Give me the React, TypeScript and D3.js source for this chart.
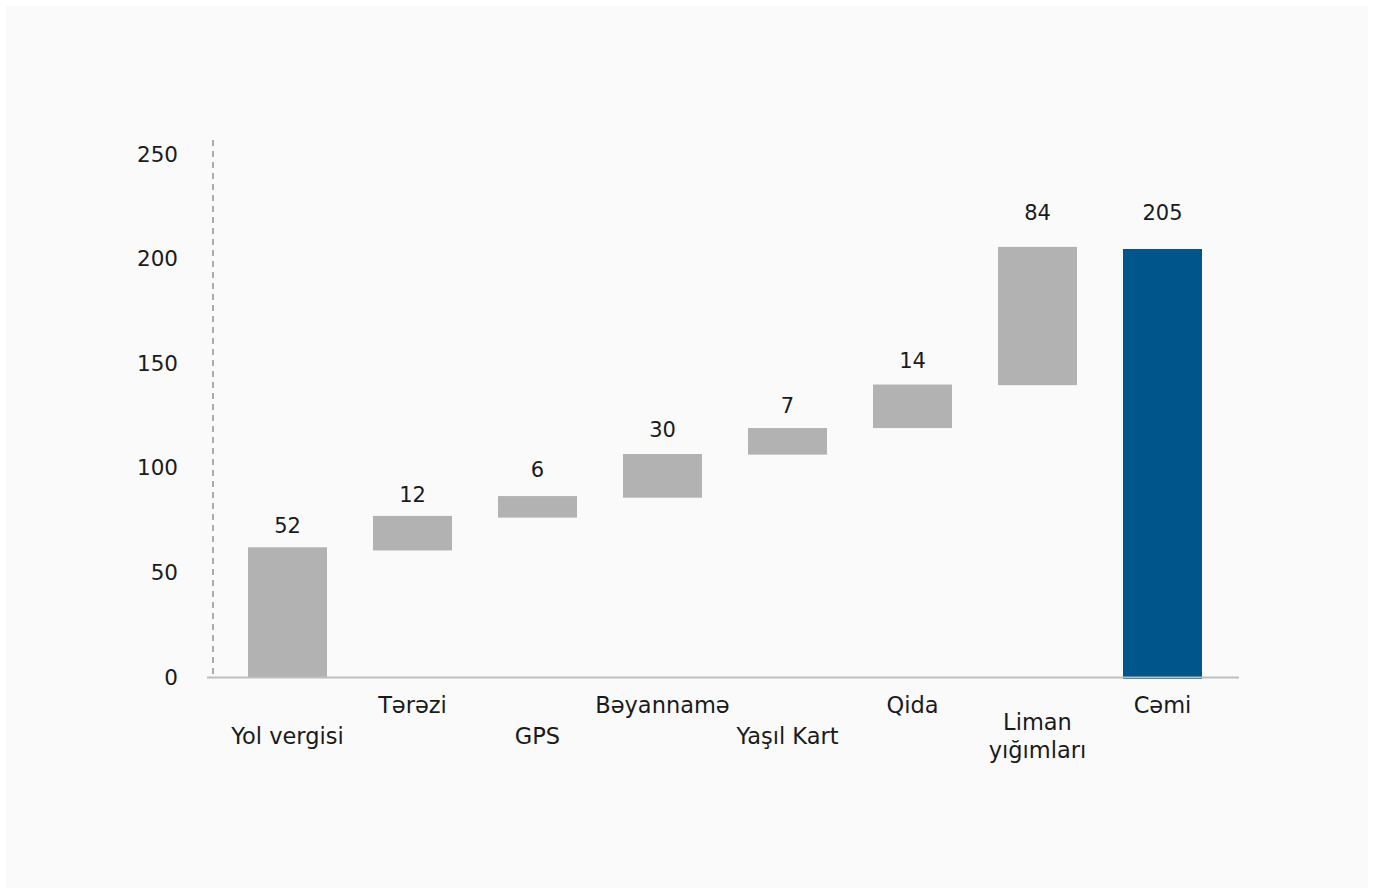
import React from "react";
import * as d3 from "d3";

const categories = ["Yol vergisi", "Tərəzi", "GPS", "Bəyannamə", "Yaşıl Kart", "Qida", "Liman yığımları", "Cəmi"];
const valueLabels = [52, 12, 6, 30, 7, 14, 84, 205];
const barStart = [0, 60.5, 76.2, 85.7, 106.3, 119, 139.5, 0];
const barEnd = [62, 77, 86.5, 106.6, 119, 139.8, 205.6, 204.6];
const labelAt = [72.0, 87.0, 98.9, 118.1, 129.7, 151.2, 221.6, 221.6];
const isTotal = [false, false, false, false, false, false, false, true];
const yTicks = [0, 50, 100, 150, 200, 250];

const W = 1373;
const H = 891;
const FONT = "'DejaVu Sans', sans-serif";
const TEXT = "#1a1a1a";
const GRAY = "#b1b2b1";
const BLUE = "#00558a";

export default function App() {
  const x = d3.scaleBand<string>().domain(categories).range([225, 1225]).paddingInner(0.368).paddingOuter(0.184);
  const y = d3.scaleLinear().domain([0, 250]).range([677, 154]);

  const wrap = (s: string) => (s.length > 12 && s.includes(" ") ? s.split(" ") : [s]);
  const cx = (c: string) => (x(c) as number) + x.bandwidth() / 2;

  return (
    <svg width={W} height={H} style={{ position: "absolute", left: 0, top: 0, background: "#ffffff" }}>
      <rect x={6} y={6} width={1362} height={882} fill="#fafafa" />
      <line x1={213} x2={213} y1={140} y2={y(0)} stroke="#ababab" strokeWidth={2} strokeDasharray="6,5" />
      {yTicks.map((t) => (
        <text key={t} x={178} y={y(t)} textAnchor="end" dominantBaseline="central" fontFamily={FONT} fontSize={21.5} fill={TEXT}>
          {t}
        </text>
      ))}
      {categories.map((c, i) => {
        const y0 = y(Math.min(barStart[i], barEnd[i]));
        const y1 = y(Math.max(barStart[i], barEnd[i]));
        return (
          <rect key={c} x={x(c)} y={y1} width={x.bandwidth()} height={y0 - y1 + (isTotal[i] ? 2 : 0)} fill={isTotal[i] ? BLUE : GRAY} />
        );
      })}
      <line x1={207} x2={1239} y1={677.5} y2={677.5} stroke="#bdbdbd" strokeWidth={2} />
      {categories.map((c, i) => (
        <text key={c} x={cx(c)} y={y(labelAt[i])} textAnchor="middle" dominantBaseline="central" fontFamily={FONT} fontSize={21} fill={TEXT}>
          {valueLabels[i]}
        </text>
      ))}
      {categories.map((c, i) => {
        const lines = wrap(c);
        const cy = i % 2 === 0 ? 736 : 705;
        const lh = 28;
        const startY = cy - ((lines.length - 1) * lh) / 2;
        return (
          <text key={c} x={cx(c)} textAnchor="middle" fontFamily={FONT} fontSize={22.5} fill={TEXT}>
            {lines.map((l, k) => (
              <tspan key={k} x={cx(c)} y={startY + k * lh} dominantBaseline="central">
                {l}
              </tspan>
            ))}
          </text>
        );
      })}
    </svg>
  );
}
